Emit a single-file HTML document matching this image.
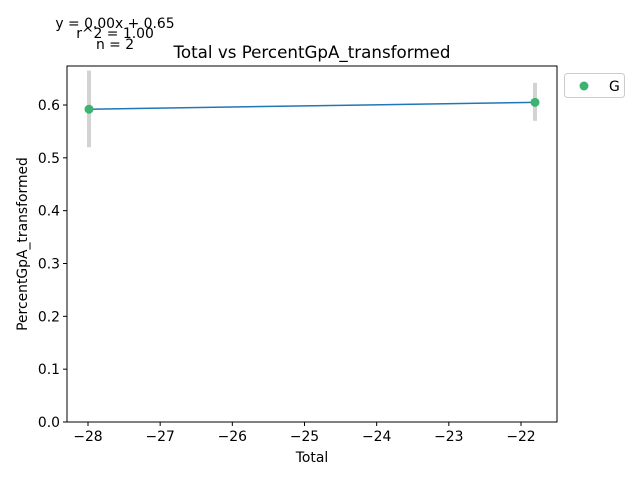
<!DOCTYPE html>
<html><head><meta charset="utf-8"><style>
body{margin:0;background:#fff;}
text{font-family:"DejaVu Sans","Liberation Sans",sans-serif;}
svg{position:absolute;left:0;top:0}
</style></head><body>
<svg id="chart" width="640" height="480">
<g id="g"></g>
</svg>
<script>
const categories=["G"];
const xValues=[-27.986,-21.806];
const yValues=[0.592,0.605];
const errLow=[0.52,0.57];
const errHigh=[0.665,0.642];
const xTicks=[-28,-27,-26,-25,-24,-23,-22];
const yTicks=[0.0,0.1,0.2,0.3,0.4,0.5,0.6];
const L=67,R=557,T=66,B=422;
const xmin=-28.291,xmax=-21.501,ymin=0,ymax=0.6738;
const sx=v=>L+(v-xmin)/(xmax-xmin)*(R-L);
const sy=v=>B-(v-ymin)/(ymax-ymin)*(B-T);
const ns="http://www.w3.org/2000/svg";
const g=document.getElementById('g');
function mk(t,a,txt){const e=document.createElementNS(ns,t);for(const k in a)e.setAttribute(k,a[k]);if(txt!==undefined)e.textContent=txt;g.appendChild(e);return e;}
for(let i=0;i<xValues.length;i++){
 const e=mk('line',{x1:sx(xValues[i]),x2:sx(xValues[i]),y1:sy(errLow[i]),y2:sy(errHigh[i]),stroke:'#d3d3d3','stroke-width':4});
 
 
}
const fl=mk('line',{x1:sx(xValues[0]),y1:sy(yValues[0]),x2:sx(xValues[1]),y2:sy(yValues[1]),stroke:'#1f77b4','stroke-width':1.5});


for(let i=0;i<xValues.length;i++){
 const c=mk('circle',{cx:sx(xValues[i]),cy:sy(yValues[i]),r:4.5,fill:'#3cb371'});
 
 
}
const fr=mk('rect',{x:L,y:T,width:R-L,height:B-T,fill:'none',stroke:'#000','stroke-width':1});


xTicks.forEach(v=>{
 const x=sx(v);
 const t=mk('line',{x1:x,x2:x,y1:B,y2:B+4,stroke:'#000'});
 
 
 const l=mk('text',{x:x,y:B+19,'font-size':13.9,'text-anchor':'middle'},'\u2212'+Math.abs(v));
 
 
});
yTicks.forEach(v=>{
 const y=sy(v);
 const t=mk('line',{x1:L-4,x2:L,y1:y,y2:y,stroke:'#000'});
 
 
 const l=mk('text',{x:L-7,y:y+5,'font-size':13.9,'text-anchor':'end'},v.toFixed(1));
 
 
});
</script>
<svg width="640" height="480">
<text x="312" y="58" font-size="16.7" text-anchor="middle">Total vs PercentGpA_transformed</text>
<text x="312" y="462" font-size="13.9" text-anchor="middle">Total</text>
<text x="27" y="244" font-size="13.9" text-anchor="middle" transform="rotate(-90 27 244)">PercentGpA_transformed</text>
<text x="115" y="28" font-size="13.9" text-anchor="middle">y = 0.00x + 0.65</text>
<text x="115" y="38" font-size="13.9" text-anchor="middle">r^2 = 1.00</text>
<text x="115" y="49" font-size="13.9" text-anchor="middle">n = 2</text>
<g>
<rect x="564.5" y="73.5" width="60" height="24" rx="3" fill="#fff" stroke="#ccc"/>
<circle cx="584" cy="86" r="4.5" fill="#3cb371"/>
<text x="609" y="91" font-size="13.9">G</text>
</g>
</svg>
</body></html>
